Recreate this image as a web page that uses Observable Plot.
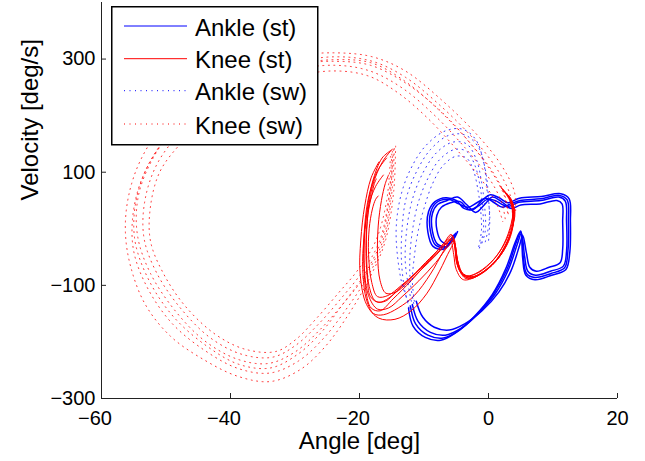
<!DOCTYPE html>
<html><head><meta charset="utf-8">
<script src="https://cdn.jsdelivr.net/npm/d3@7"></script>
<script src="https://cdn.jsdelivr.net/npm/@observablehq/plot@0.6"></script>
<style>
html,body{margin:0;padding:0;background:#fff;}
#wrap{position:relative;width:645px;height:461px;font-family:"Liberation Sans",Arial,Helvetica,sans-serif;}
</style></head><body><div id="wrap"></div>
<script>
// ---- tick values ----
const xTicks = [-60, -40, -20, 0, 20];
const yTicks = [-300, -100, 100, 300];
const legendLabels = ["Ankle (st)", "Knee (st)", "Ankle (sw)", "Knee (sw)"];
const legendColors = ["#0000ff", "#ff0000", "#0000ff", "#ff0000"];

// ---- Ankle stance cycles [angle, velocity] ----
const ankleSt1 = [[-5.1,-8],[-6.4,-31],[-7.9,-27],[-8.7,-4],[-8.7,27],[-7.9,43],[-6.4,50],[-4.8,56],[-3.4,43],[-2.0,29],[-0.6,43],[0.6,56],[1.9,49],[3.1,40],[4.7,47],[8.1,50],[10.9,56],[11.9,49],[12.1,13],[12.1,-40],[11.6,-66],[9.6,-75],[7.3,-82],[6.1,-75],[5.6,-49],[5.1,-8],[4.5,-26],[3.1,-72],[1.1,-114],[-1.6,-150],[-4.3,-176],[-6.7,-188],[-9.0,-183],[-10.9,-164],[-11.8,-134]];
const ankleSt2 = [[-5.5,-12],[-6.9,-36],[-8.6,-31],[-9.4,-6],[-9.3,30],[-8.3,48],[-6.6,55],[-5.0,50],[-3.8,36],[-2.4,34],[-1.0,50],[0.3,60],[1.6,55],[3.0,46],[4.8,54],[8.2,57],[11.2,62],[12.5,53],[12.7,13],[12.6,-42],[12.0,-72],[9.8,-82],[7.2,-90],[5.8,-82],[5.3,-52],[5.0,-4],[4.2,-22],[2.7,-70],[0.6,-116],[-2.2,-155],[-5.0,-183],[-7.4,-197],[-9.8,-192],[-11.7,-172],[-12.4,-140]];
const ankleSt3 = [[-4.8,-5],[-6.0,-26],[-7.3,-22],[-8.0,-2],[-8.0,24],[-7.3,38],[-5.9,46],[-4.4,48],[-3.0,34],[-1.6,40],[-0.2,52],[1.0,50],[2.3,42],[3.6,36],[5.0,42],[8.0,44],[10.6,50],[11.4,44],[11.5,12],[11.5,-36],[11.1,-60],[9.4,-68],[7.4,-75],[6.4,-68],[5.9,-44],[5.3,-12],[4.8,-30],[3.5,-74],[1.6,-112],[-1.0,-145],[-3.7,-168],[-6.1,-179],[-8.4,-174],[-10.2,-156],[-11.2,-128]];
const ankleSt4 = [[-5.3,-10],[-6.6,-33],[-8.2,-29],[-9.0,-5],[-9.0,28],[-8.1,46],[-6.2,52],[-4.6,44],[-3.2,38],[-1.8,46],[-0.4,54],[0.9,46],[2.2,38],[3.4,44],[4.9,50],[8.1,53],[11.0,59],[12.2,51],[12.4,13],[12.3,-41],[11.8,-69],[9.7,-79],[7.2,-86],[5.9,-79],[5.4,-50],[5.0,-6],[4.3,-24],[2.9,-71],[0.8,-115],[-1.9,-153],[-4.6,-180],[-7.0,-193],[-9.4,-188],[-11.3,-168],[-12.1,-137]];

// ---- Knee stance cycles ----
const kneeSt1 = [[2.8,63],[3.9,40],[3.7,4],[2.6,-31],[1.1,-58],[-1.2,-79],[-3.4,-86],[-4.7,-68],[-5.1,-40],[-5.6,-15],[-6.5,-26],[-8.7,-50],[-11.3,-79],[-14.0,-107],[-16.0,-128],[-17.5,-128],[-18.5,-102],[-18.9,-49],[-18.8,13],[-18.0,75],[-16.4,119],[-14.9,141]];
const kneeSt2 = [[2.2,70],[3.5,48],[3.9,15],[3.0,-22],[1.6,-50],[-0.6,-74],[-2.8,-88],[-4.3,-78],[-5.0,-52],[-5.4,-22],[-6.2,-30],[-8.2,-60],[-10.8,-92],[-13.4,-120],[-15.5,-140],[-17.2,-142],[-18.6,-118],[-19.3,-60],[-19.2,5],[-18.5,60],[-17.2,103],[-15.8,125]];
const kneeSt3 = [[3.4,55],[4.1,30],[3.5,-5],[2.2,-38],[0.5,-65],[-1.8,-84],[-3.9,-90],[-5.0,-72],[-5.4,-45],[-5.9,-20],[-7.0,-40],[-9.0,-80],[-11.5,-118],[-14.0,-140],[-16.3,-152],[-17.8,-150],[-18.9,-126],[-19.5,-72],[-19.3,-15],[-18.6,40],[-17.5,75],[-16.3,95]];
const kneeSt4 = [[1.8,75],[3.2,55],[3.9,22],[3.4,-14],[2.0,-45],[0.0,-70],[-2.2,-84],[-4.0,-80],[-4.8,-56],[-5.2,-28],[-5.9,-18],[-7.8,-42],[-10.5,-70],[-13.5,-100],[-15.6,-118],[-17.2,-120],[-18.1,-95],[-18.6,-45],[-18.5,0],[-18.0,35],[-17.5,52],[-17.1,58]];
const kneeSt5 = [[3.0,60],[3.8,36],[3.3,0],[2.0,-35],[0.2,-62],[-2.0,-80],[-3.8,-82],[-4.9,-62],[-5.2,-35],[-5.6,-12],[-6.8,-24],[-9.2,-56],[-12.0,-92],[-14.8,-124],[-16.8,-145],[-18.2,-140],[-19.0,-110],[-19.3,-50],[-19.0,15],[-18.0,82],[-16.5,125],[-15.2,138]];
const kneeSt6 = [[2.5,66],[3.6,44],[3.6,8],[2.5,-26],[0.8,-54],[-1.5,-76],[-3.6,-84],[-4.6,-64],[-5.1,-36],[-5.8,-10],[-7.2,-30],[-9.8,-60],[-12.8,-95],[-15.4,-122],[-17.0,-130],[-18.3,-120],[-18.8,-85],[-19.0,-30],[-18.7,25],[-18.1,60],[-17.7,80],[-17.4,88]];
const kneeSt7 = [[3.2,58],[4.0,34],[3.6,-2],[2.4,-34],[0.8,-60],[-1.4,-80],[-3.5,-88],[-4.6,-70],[-5.0,-44],[-5.4,-18],[-6.2,-22],[-8.0,-45],[-10.4,-72],[-12.6,-96],[-14.4,-112],[-15.9,-114],[-16.8,-92],[-17.2,-45],[-17.1,5],[-16.6,50],[-16.0,80],[-15.5,95]];
const kneeSt8 = [[2.0,72],[3.3,50],[3.8,18],[3.2,-18],[1.8,-48],[-0.3,-72],[-2.5,-86],[-4.2,-76],[-4.9,-50],[-5.3,-25],[-6.0,-38],[-7.6,-75],[-9.6,-115],[-12.0,-145],[-14.5,-160],[-17.0,-158],[-18.9,-134],[-19.9,-80],[-19.8,-20],[-19.2,40],[-18.2,90],[-17.0,118]];

// ---- Ankle swing cycles ----
const ankleSw1 = [[-12.1,-137],[-13.3,-102],[-14.1,-49],[-14.3,4],[-13.6,58],[-12.1,105],[-9.8,146],[-6.7,173],[-4.0,176],[-2.0,158],[-0.8,120],[-0.2,66],[0.2,22],[0.0,-22]];
const ankleSw2 = [[-11.8,-137],[-12.4,-102],[-12.9,-58],[-12.7,-4],[-11.8,52],[-10.2,98],[-8.1,134],[-5.6,153],[-3.4,150],[-1.9,123],[-1.1,84],[-0.6,40],[-0.5,-4],[-1.2,-31]];
const ankleSw3 = [[-11.6,-132],[-12.1,-97],[-12.2,-53],[-11.8,-4],[-10.9,46],[-9.4,89],[-7.6,122],[-5.3,140],[-3.4,137],[-2.1,112],[-1.3,75],[-0.9,35],[-0.8,-4],[-1.4,-34]];
const ankleSw4 = [[-11.5,-128],[-11.8,-93],[-11.5,-49],[-10.9,-4],[-9.9,40],[-8.7,79],[-7.1,111],[-5.1,128],[-3.4,125],[-2.3,102],[-1.6,66],[-1.2,31],[-1.1,-4],[-1.6,-36]];
const ankleSw5 = [[-12.3,-140],[-13.0,-108],[-13.5,-55],[-13.4,0],[-12.8,52],[-11.2,100],[-9.0,140],[-6.2,165],[-3.7,166],[-1.6,145],[-0.5,105],[0.0,55],[0.1,12],[-0.6,-28]];

// ---- Knee swing cycles ----
const kneeSw1 = [[-14.4,146],[-14.7,66],[-16.0,-22],[-18.3,-84],[-21.4,-146],[-25.3,-208],[-29.2,-249],[-33.8,-270],[-38.8,-261],[-44.2,-231],[-49.3,-190],[-53.2,-134],[-55.5,-66],[-56.3,-4],[-55.8,58],[-54.0,120],[-50.1,190],[-45.4,240],[-38.5,282],[-30.7,305],[-23.7,311],[-18.0,304],[-12.9,279],[-7.4,229],[-2.0,169],[1.9,114],[4.0,66],[4.2,31]];
const kneeSw2 = [[-14.6,142],[-15.0,62],[-16.2,-22],[-18.6,-82],[-21.8,-138],[-25.6,-194],[-29.5,-234],[-33.9,-255],[-38.8,-247],[-44.0,-215],[-49.0,-168],[-52.8,-106],[-55.0,-40],[-55.1,27],[-53.6,92],[-50.2,158],[-45.6,214],[-38.9,260],[-31.0,292],[-23.8,304],[-18.0,296],[-12.9,268],[-7.5,218],[-2.4,160],[1.3,106],[3.3,62],[3.7,27]];
const kneeSw3 = [[-14.9,137],[-15.2,57],[-16.4,-22],[-18.9,-79],[-22.2,-128],[-26.1,-178],[-29.9,-217],[-34.1,-238],[-38.8,-231],[-43.9,-199],[-48.5,-146],[-52.4,-79],[-54.4,-13],[-54.3,57],[-52.1,123],[-48.5,181],[-43.9,229],[-37.7,270],[-30.7,290],[-23.7,296],[-18.3,289],[-12.9,258],[-7.4,208],[-2.8,151],[0.8,98],[2.6,57],[3.1,22]];
const kneeSw4 = [[-15.0,132],[-15.5,52],[-16.9,-22],[-19.5,-75],[-22.7,-121],[-26.4,-169],[-29.9,-206],[-33.5,-227],[-38.2,-222],[-43.1,-193],[-47.7,-141],[-51.4,-79],[-53.4,-17],[-53.3,48],[-51.5,112],[-48.0,168],[-43.5,217],[-37.3,257],[-30.3,281],[-23.7,289],[-18.4,279],[-13.4,249],[-8.4,201],[-3.7,144],[0.0,91],[2.0,48],[2.6,17]];
const kneeSw5 = [[-15.2,128],[-15.8,49],[-17.5,-22],[-20.2,-72],[-23.3,-114],[-26.8,-160],[-29.9,-196],[-33.0,-217],[-37.7,-213],[-42.3,-187],[-47.0,-137],[-50.4,-79],[-52.4,-22],[-52.4,40],[-50.9,102],[-47.4,155],[-43.1,204],[-36.9,243],[-29.9,270],[-23.7,279],[-18.6,270],[-14.0,240],[-9.3,194],[-4.7,137],[-0.9,84],[1.4,40],[2.2,13]];
const kneeSw6 = [[-14.7,140],[-15.4,55],[-16.6,-20],[-19.2,-80],[-22.5,-132],[-26.0,-184],[-29.6,-222],[-33.8,-246],[-38.6,-240],[-43.6,-208],[-48.8,-156],[-52.6,-92],[-54.8,-22],[-54.7,46],[-52.8,112],[-49.2,172],[-44.6,222],[-38.2,264],[-30.9,289],[-23.6,299],[-18.1,293],[-13.1,262],[-7.9,212],[-3.2,156],[0.4,102],[2.4,60],[3.0,24]];

// ---- build table ----
const rows = [];
function add(series, cycle, pts) { pts.forEach(([a, v]) => rows.push({series, cycle, angle: a, velocity: v})); }
[ankleSt1, ankleSt2, ankleSt3, ankleSt4].forEach((c, i) => add("ankleSt", "as" + i, c));
[kneeSt1, kneeSt2, kneeSt3, kneeSt4, kneeSt5, kneeSt6, kneeSt7, kneeSt8].forEach((c, i) => add("kneeSt", "ks" + i, c));
[ankleSw1, ankleSw2, ankleSw3, ankleSw4, ankleSw5].forEach((c, i) => add("ankleSw", "aw" + i, c));
[kneeSw1, kneeSw2, kneeSw3, kneeSw4, kneeSw5, kneeSw6].forEach((c, i) => add("kneeSw", "kw" + i, c));
const sel = s => rows.filter(d => d.series === s);

const fmt = d => d < 0 ? "\u2212" + Math.abs(d) : String(d);
const FONT = "Liberation Sans, Arial, Helvetica, sans-serif";

const chart = Plot.plot({
  width: 645, height: 461,
  marginLeft: 101, marginRight: 28, marginTop: 2, marginBottom: 63,
  x: {domain: [-60, 20]},
  y: {domain: [-300, 400]},
  style: {fontFamily: FONT, background: "white", color: "black"},
  marks: [
    Plot.line(sel("ankleSt"), {x: "angle", y: "velocity", z: "cycle", stroke: "#0000ff", strokeWidth: 1.5, curve: "catmull-rom"}),
    Plot.line(sel("kneeSt"), {x: "angle", y: "velocity", z: "cycle", stroke: "#ff0000", strokeWidth: 1, curve: "catmull-rom"}),
    Plot.line(sel("ankleSw"), {x: "angle", y: "velocity", z: "cycle", stroke: "#0000ff", strokeWidth: 1, strokeOpacity: 0.8, strokeDasharray: "1,4.5", curve: "catmull-rom"}),
    Plot.line(sel("kneeSw"), {x: "angle", y: "velocity", z: "cycle", stroke: "#ff0000", strokeWidth: 1, strokeOpacity: 0.8, strokeDasharray: "1,4.5", curve: "catmull-rom"}),
    Plot.ruleX([-60], {stroke: "#222"}),
    Plot.ruleY([-300], {stroke: "#222"}),
    Plot.axisX(xTicks, {tickSize: -5, fill: "none", label: null, stroke: "#222"}),
    Plot.axisX(xTicks.filter(d => d < 0), {tickSize: 0, tickPadding: 12, dx: -6.5, tickFormat: fmt, fontSize: 20, label: null}),
    Plot.axisX(xTicks.filter(d => d >= 0), {tickSize: 0, tickPadding: 12, tickFormat: fmt, fontSize: 20, label: null}),
    Plot.axisY(yTicks, {tickSize: -5, fill: "none", label: null, stroke: "#222"}),
    Plot.axisY(yTicks, {tickSize: 0, tickPadding: 6, tickFormat: fmt, fontSize: 20, label: null}),
    Plot.text(["Angle [deg]"], {text: d => d, frameAnchor: "bottom", dy: 50, lineAnchor: "bottom", fontSize: 24}),
    Plot.text(["Velocity [deg/s]"], {text: d => d, frameAnchor: "left", dx: -64, rotate: -90, lineAnchor: "bottom", fontSize: 24})
  ]
});
const wrap = document.getElementById("wrap");
wrap.appendChild(chart);

// ---- legend overlay ----
const rowY = [20, 52.7, 84.7, 118];
const dash = ["", "", "1,4.5", "1,4.5"];
let lg = `<svg xmlns="http://www.w3.org/2000/svg" width="208" height="140" style="position:absolute;left:111px;top:6px;font-family:${FONT}">`;
lg += `<rect x="0.75" y="0.75" width="206" height="138" fill="white" stroke="black" stroke-width="1.5"/>`;
legendLabels.forEach((t, i) => {
  lg += `<line x1="13" x2="76" y1="${rowY[i]}" y2="${rowY[i]}" stroke="${legendColors[i]}" stroke-width="1" ${dash[i] ? `stroke-dasharray="${dash[i]}"` : ""}/>`;
  lg += `<text x="84" y="${rowY[i] + 9.5}" font-size="24" fill="black">${t}</text>`;
});
lg += `</svg>`;
wrap.insertAdjacentHTML("beforeend", lg);
</script></body></html>
